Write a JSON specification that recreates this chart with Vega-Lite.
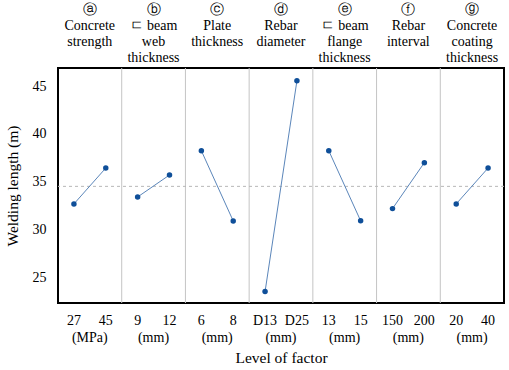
{
  "$schema": "https://vega.github.io/schema/vega-lite/v6.json",
  "width": 446,
  "height": 235,
  "autosize": {"type": "none"},
  "padding": {"left": 58, "top": 68, "right": 5, "bottom": 67},
  "background": "white",
  "config": {
    "view": {"stroke": "black", "strokeWidth": 2},
    "font": "Liberation Serif",
    "axis": {"labelFont": "Liberation Serif", "titleFont": "Liberation Serif", "labelColor": "black", "titleColor": "black", "labelFontSize": 14, "titleFontSize": 15.5, "titleFontWeight": "normal", "domain": false, "ticks": false, "grid": false, "tickSize": 0, "labelOverlap": false, "labelBound": false, "labelFlush": false}
  },
  "datasets": {
    "effects": [
      {"factor": "a", "key": "a|27", "value": 32.67},
      {"factor": "a", "key": "a|45", "value": 36.43},
      {"factor": "b", "key": "b|9", "value": 33.4},
      {"factor": "b", "key": "b|12", "value": 35.7},
      {"factor": "c", "key": "c|6", "value": 38.24},
      {"factor": "c", "key": "c|8", "value": 30.89},
      {"factor": "d", "key": "d|D13", "value": 23.5},
      {"factor": "d", "key": "d|D25", "value": 45.56},
      {"factor": "e", "key": "e|13", "value": 38.24},
      {"factor": "e", "key": "e|15", "value": 30.9},
      {"factor": "f", "key": "f|150", "value": 32.18},
      {"factor": "f", "key": "f|200", "value": 36.99},
      {"factor": "g", "key": "g|20", "value": 32.67},
      {"factor": "g", "key": "g|40", "value": 36.43}
    ],
    "dividers": [
      {"key": "b|9"}, {"key": "c|6"}, {"key": "d|D13"}, {"key": "e|13"}, {"key": "f|150"}, {"key": "g|20"}
    ],
    "mean": [{"value": 34.51}]
  },
  "resolve": {"axis": {"x": "independent"}},
  "layer": [
    {
      "data": {"name": "dividers"},
      "mark": {"type": "rule", "color": "#c4c4c4", "strokeWidth": 1},
      "encoding": {
        "x": {
          "field": "key", "type": "nominal", "bandPosition": 0,
          "scale": {"type": "band", "paddingInner": 0, "paddingOuter": 0, "domain": ["a|27","a|45","b|9","b|12","c|6","c|8","d|D13","d|D25","e|13","e|15","f|150","f|200","g|20","g|40"]},
          "axis": {
            "orient": "top", "title": null,
            "values": ["a|45","b|12","c|8","d|D25","e|15","f|200","g|40"],
            "labelOffset": -16,
            "labelBaseline": "top", "labelPadding": 66, "labelLineHeight": 16, "labelAngle": 0, "labelAlign": "center",
            "labelExpr": "split({'a':'ⓐ|Concrete|strength','b':'ⓑ|ㄷ beam|web|thickness','c':'ⓒ|Plate|thickness','d':'ⓓ|Rebar|diameter','e':'ⓔ|ㄷ beam|flange|thickness','f':'ⓕ|Rebar|interval','g':'ⓖ|Concrete|coating|thickness'}[split(datum.value,'|')[0]], '|')"
          }
        }
      }
    },
    {
      "data": {"name": "mean"},
      "mark": {"type": "rule", "color": "#b8b8b8", "strokeWidth": 1, "strokeDash": [3, 3]},
      "encoding": {
        "y": {"field": "value", "type": "quantitative", "scale": {"domain": [22.3, 46.9], "nice": false, "zero": false}, "axis": {"title": "Welding length (m)", "values": [25, 30, 35, 40, 45], "labelPadding": 12, "titlePadding": 12}}
      }
    },
    {
      "data": {"name": "effects"},
      "mark": {"type": "line", "color": "#5b86ba", "strokeWidth": 1},
      "encoding": {
        "x": {
          "field": "key", "type": "nominal",
          "axis": {
            "orient": "bottom", "title": "Level of factor", "titlePadding": 6,
            "values": ["a|45","b|12","c|8","d|D25","e|15","f|200","g|40"],
            "labelOffset": -16,
            "labelPadding": 27, "labelAngle": 0, "labelAlign": "center",
            "labelExpr": "split(datum.value,'|')[0] == 'a' ? '(MPa)' : '(mm)'"
          }
        },
        "y": {"field": "value", "type": "quantitative", "axis": {"title": "Welding length (m)", "values": [25, 30, 35, 40, 45], "labelPadding": 12, "titlePadding": 12}},
        "detail": {"field": "factor"}
      }
    },
    {
      "data": {"name": "effects"},
      "mark": {"type": "point", "filled": true, "color": "#0f4f99", "size": 30, "opacity": 1},
      "encoding": {
        "x": {
          "field": "key", "type": "nominal",
          "axis": {
            "orient": "bottom", "title": null,
            "labelPadding": 10, "labelAngle": 0, "labelAlign": "center",
            "labelExpr": "split(datum.value,'|')[1]"
          }
        },
        "y": {"field": "value", "type": "quantitative", "axis": {"title": "Welding length (m)", "values": [25, 30, 35, 40, 45], "labelPadding": 12, "titlePadding": 12}}
      }
    }
  ]
}
